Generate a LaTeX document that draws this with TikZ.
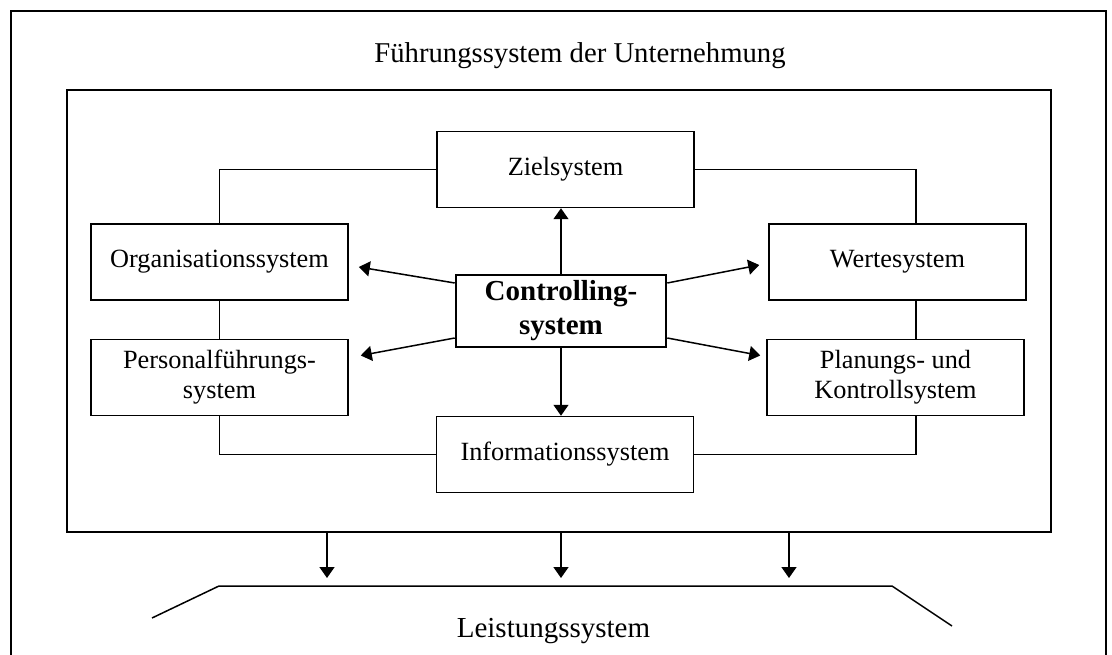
\documentclass[tikz,border=0pt]{standalone}
\usepackage{fontspec}
\setmainfont{Liberation Serif}
\usetikzlibrary{arrows.meta}
\begin{document}
\begin{tikzpicture}[x=1pt,y=-1pt,
  line width=1.5pt,
  sysbox/.style={draw, rectangle, inner sep=0pt, minimum width=257pt,
    minimum height=76pt, align=center, font=\fontsize{26.3}{30}\selectfont},
  ctrlbox/.style={draw, rectangle, line width=2.6pt, inner sep=0pt,
    minimum width=210pt, minimum height=72pt, align=center,
    font=\fontsize{29}{34}\selectfont\bfseries},
  arr/.style={-{Triangle[length=11pt,width=15pt]}},
  heading/.style={anchor=base, inner sep=0pt, font=\fontsize{28.7}{32}\selectfont}]

\useasboundingbox (0,0) rectangle (1112,655);

% outer frame (open at the bottom)
\draw (11,660) -- (11,11) -- (1106,11) -- (1106,660);
\node[heading] (title) at (580,63) {Führungssystem der Unternehmung};

% inner frame
\node[draw, rectangle, inner sep=0pt, minimum width=984pt, minimum height=442pt]
  (frame) at (559,311) {};

% subsystems
\node[sysbox] (ziel) at (565.5,169.5) {Zielsystem};
\node[sysbox] (org)  at (219.5,262)   {Organisationssystem};
\node[sysbox] (pers) at (219.5,377.5) {Personalführungs-\\system};
\node[sysbox] (info) at (565,454.5)   {Informationssystem};
\node[sysbox] (wert) at (897.5,262)   {Wertesystem};
\node[sysbox] (plan) at (895.5,377.5) {Planungs- und\\Kontrollsystem};
\node[ctrlbox] (ctrl) at (561,311)    {Controlling-\\system};

% ring of links between the subsystems
\draw (org.north) |- (ziel.west);
\draw (ziel.east) -| ([xshift=18.5pt]wert.north);
\draw (org.south) -- (pers.north);
\draw ([xshift=18.5pt]wert.south) -- ([xshift=20.5pt]plan.north);
\draw (pers.south) |- (info.west);
\draw (info.east) -| ([xshift=20.5pt]plan.south);

% controlling acts on every subsystem
\draw[arr] (ctrl.north) -- (ctrl.north |- ziel.south);
\draw[arr] (ctrl.south) -- (ctrl.south |- info.north);
\draw[arr] ([yshift=28pt]ctrl.west)  -- ([xshift=10pt,yshift=-5pt]org.east);
\draw[arr] ([yshift=-27pt]ctrl.west) -- ([xshift=12pt,yshift=22pt]pers.east);
\draw[arr] ([yshift=28pt]ctrl.east)  -- ([xshift=-9pt,yshift=-3pt]wert.west);
\draw[arr] ([yshift=-27pt]ctrl.east) -- ([xshift=-6pt,yshift=22pt]plan.west);

% performance system
\coordinate (l0) at (152,618);
\coordinate (l1) at (219,586);
\coordinate (l2) at (892,586);
\coordinate (l3) at (952,626);
\draw (l0) -- (l1) -- (l2) -- (l3);
\node[heading, font=\fontsize{29}{33}\selectfont] (leist) at (553.5,637) {Leistungssystem};

\coordinate (a1) at (327,578);
\coordinate (a2) at (561,578);
\coordinate (a3) at (789,578);
\draw[arr] (a1 |- frame.south) -- (a1);
\draw[arr] (a2 |- frame.south) -- (a2);
\draw[arr] (a3 |- frame.south) -- (a3);
\end{tikzpicture}
\end{document}
